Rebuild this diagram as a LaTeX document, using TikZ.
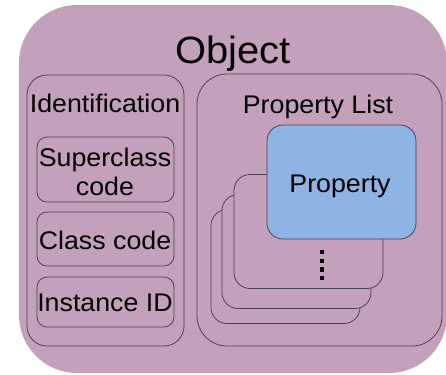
\documentclass[tikz,border=0pt]{standalone}
\usepackage{fontspec}
\setmainfont[FakeStretch=1.05]{Liberation Sans}
\definecolor{objfill}{HTML}{C3A1BD}
\definecolor{propfill}{HTML}{8DB4E2}
\definecolor{edge}{HTML}{4E4250}
\tikzset{
  panel/.style={draw=edge, line width=0.8bp, fill=objfill, rectangle, inner sep=0pt},
  idbox/.style={panel, rounded corners=10bp, minimum width=137bp, minimum height=#1},
  card/.style={panel, rounded corners=16bp, minimum width=149bp, minimum height=114bp},
  lbl/.style={inner sep=0pt, anchor=base, font=\fontsize{25.5bp}{30bp}\selectfont},
  dotmark/.style={fill=black, inner sep=0pt, minimum size=4.5bp, rectangle}
}
\begin{document}
\begin{tikzpicture}[x=1bp, y=-1bp]
  \useasboundingbox (0,0) rectangle (446,374);

  % outer object container
  \node[fill=objfill, rounded corners=58bp, minimum width=428bp, minimum height=368bp, inner sep=0pt] (object) at (233,189) {};
  \node[inner sep=0pt, anchor=base, font=\fontsize{38bp}{44bp}\selectfont] (objtitle) at (233,63) {Object};

  % identification column
  \node[panel, rounded corners=20bp, minimum width=157bp, minimum height=271bp] (ident) at (105.5,210.5) {};
  \node[lbl] (identtitle) at (105,112) {Identification};
  \node[idbox=65bp] (superbox) at (105.5,169.5) {};
  \node[lbl] (superA) at (105,166) {Superclass};
  \node[lbl] (superB) at (105,195) {code};
  \node[idbox=54bp] (classbox) at (105.5,239) {};
  \node[lbl] (classtxt) at (105,249) {Class code};
  \node[idbox=50bp] (instbox) at (105.5,302) {};
  \node[lbl] (insttxt) at (105,311) {Instance ID};

  % property list column
  \node[panel, rounded corners=30bp, minimum width=245bp, minimum height=272bp] (plist) at (319.5,210) {};
  \node[lbl] (plisttitle) at (318,113) {Property List};

  % stacked property cards
  \node[card] (cardC) at (285.5,266.5) {};
  \node[card] (cardB) at (296.5,251.5) {};
  \node[card] (cardA) at (308.5,231.5) {};
  \node[card, fill=propfill] (prop) at (341.5,182) {};
  \node[lbl] (proptxt) at (340,192) {Property};

  % vertical ellipsis
  \foreach \yy in {252,261,269.5,278}
    \node[dotmark] at (322,\yy) {};
\end{tikzpicture}
\end{document}
